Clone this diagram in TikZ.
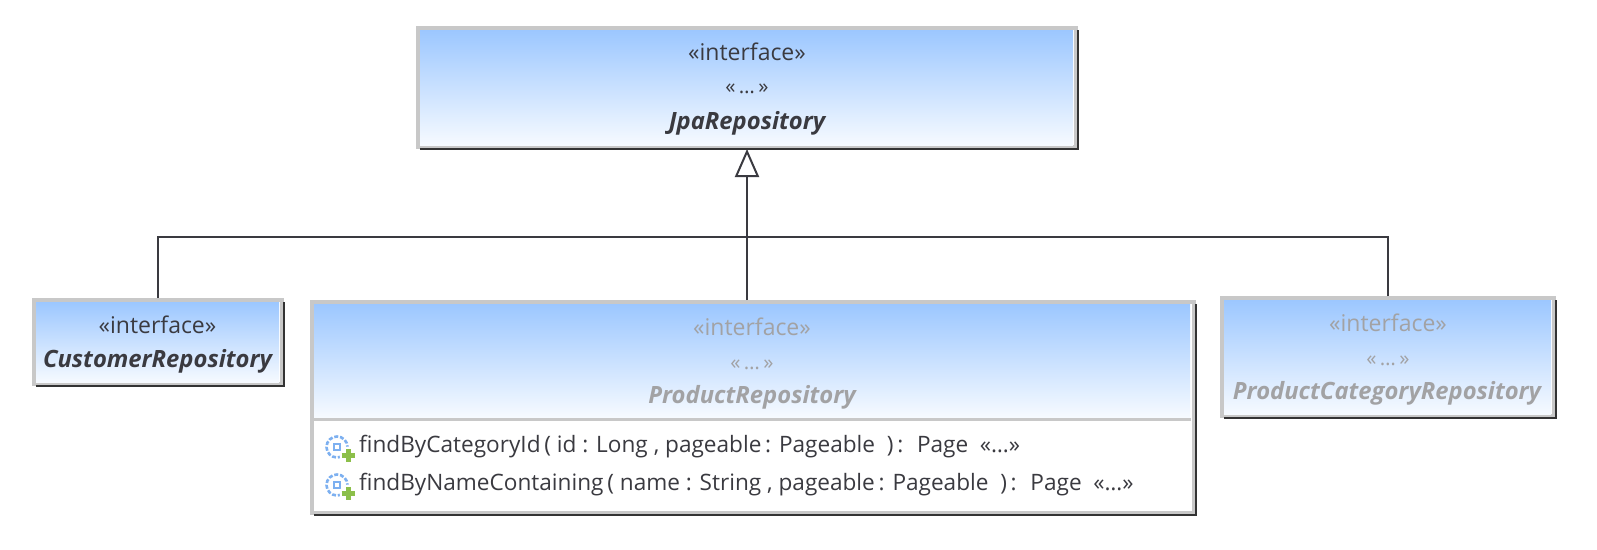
\documentclass[tikz,border=0pt]{standalone}
\usepackage{fontspec}
\setmainfont{Open Sans}
\usetikzlibrary{arrows.meta}
\definecolor{ink}{HTML}{3A3A40}
\definecolor{dim}{HTML}{A2A2A4}
\definecolor{edge}{HTML}{C8C8C8}
\definecolor{topblue}{HTML}{9CC7FF}
\definecolor{lowblue}{HTML}{F6FAFF}
\definecolor{gearblue}{HTML}{7DB0F0}
\definecolor{plusgreen}{HTML}{8CBF4A}
\newcommand{\stxt}{\fontsize{23}{26}\selectfont}
\newcommand{\dtxt}{\fontsize{20.5}{24}\selectfont}
\newcommand{\ntxt}{\fontsize{23.8}{27}\selectfont\bfseries\itshape}
\newcommand{\mtxt}{\fontsize{22.6}{26}\selectfont}
\tikzset{
  x=1pt,y=-1pt,
  umlbox/.style={draw=edge,line width=4pt,fill=white,inner sep=0pt,outer sep=0pt,rectangle},
  label/.style={anchor=base,inner sep=0pt,text=ink},
  labeldim/.style={anchor=base,inner sep=0pt,text=dim},
  methodlabel/.style={anchor=base west,inner sep=0pt,text=ink},
  shadowline/.style={draw=black!80,line width=1.2pt},
  conn/.style={draw=ink,line width=2pt},
  gen/.style={conn,-{Triangle[open,length=28pt,width=24pt,line width=2pt,fill=white]}},
  grad/.style={top color=topblue,bottom color=lowblue,draw=none},
  gearring/.style={draw=gearblue,line width=2.6pt,dash pattern=on 4pt off 1.8pt},
}
\newcommand{\methodicon}[2]{%
  \draw[gearring] (#1,#2) circle[radius=10.5];
  \draw[draw=gearblue,line width=2pt] (#1-3,#2-3) rectangle (#1+3,#2+3);
  \fill[white] (#1+11,#2+8) circle[radius=8.5];
  \draw[plusgreen,line width=5pt] (#1+4.5,#2+8.5) -- (#1+17.5,#2+8.5) (#1+11,#2+2) -- (#1+11,#2+15);
}
\begin{document}
\begin{tikzpicture}
\useasboundingbox (0,0) rectangle (1597,549);
\fill[white] (0,0) rectangle (1597,549);

% boxes
\node[umlbox,minimum width=658pt,minimum height=119pt] (jpa) at (747,87.5) {};
\node[umlbox,minimum width=248pt,minimum height=84pt] (cust) at (158,342) {};
\node[umlbox,minimum width=882pt,minimum height=211pt] (prod) at (753,407.5) {};
\node[umlbox,minimum width=332pt,minimum height=118pt] (cat) at (1388,357) {};

% gradients
\shade[grad] ([shift={(2,2)}]jpa.north west) rectangle ([shift={(-3,-2)}]jpa.south east);
\shade[grad] ([shift={(2,2)}]cust.north west) rectangle ([shift={(-3,-2)}]cust.south east);
\shade[grad] ([shift={(2,2)}]prod.north west) rectangle (1190,417);
\shade[grad] ([shift={(2,2)}]cat.north west) rectangle ([shift={(-3,-2)}]cat.south east);

% compartment line
\coordinate (sepl) at (prod.west |- 0,419);
\coordinate (sepr) at (1191,419);
\draw[draw=edge,line width=3pt] (sepl) -- (sepr);

% drop edges
\draw[shadowline] ([shift={(2,2)}]jpa.north east) -- ([shift={(2,2)}]jpa.south east) -- ([shift={(2,2)}]jpa.south west);
\draw[shadowline] ([shift={(2,2)}]cust.north east) -- ([shift={(2,2)}]cust.south east) -- ([shift={(2,2)}]cust.south west);
\draw[shadowline] ([shift={(2,2)}]prod.north east) -- ([shift={(2,2)}]prod.south east) -- ([shift={(2,2)}]prod.south west);
\draw[shadowline] ([shift={(2,2)}]cat.north east) -- ([shift={(2,2)}]cat.south east) -- ([shift={(2,2)}]cat.south west);

% connectors
\coordinate (trunk) at (747,236.5);
\draw[conn] ([yshift=2pt]cust.north) |- (trunk);
\draw[conn] ([yshift=2pt]cat.north) |- (trunk);
\draw[gen] ([yshift=2pt]trunk |- prod.north) -- ([yshift=-2pt]jpa.south);

% texts
\node[label] (jpas) at (747,60) {\stxt «interface»};
\node[label] (jpad) at (747,93) {\dtxt «\,…\,»};
\node[label] (jpan) at (747,129) {\ntxt JpaRepository};

\node[label] (custs) at (157.5,333) {\stxt «interface»};
\node[label] (custn) at (157.5,367) {\ntxt CustomerRepository};

\node[labeldim] (prods) at (752,335) {\stxt «interface»};
\node[labeldim] (prodd) at (752,369) {\dtxt «\,…\,»};
\node[labeldim] (prodn) at (752,403) {\ntxt ProductRepository};

\node[labeldim] (cats) at (1388,331) {\stxt «interface»};
\node[labeldim] (catd) at (1388,365) {\dtxt «\,…\,»};
\node[labeldim] (catn) at (1387,399) {\ntxt ProductCategoryRepository};

\node[methodlabel] (m1) at (359,452) {\mtxt findByCategoryId\,( id : Long , pageable\,: Pageable~ )\,:~ Page~ «…»};
\node[methodlabel] (m2) at (359,490) {\mtxt findByNameContaining\,( name : String , pageable\,: Pageable~ )\,:~ Page~ «…»};

\methodicon{337}{447}
\methodicon{337}{485}
\end{tikzpicture}
\end{document}
